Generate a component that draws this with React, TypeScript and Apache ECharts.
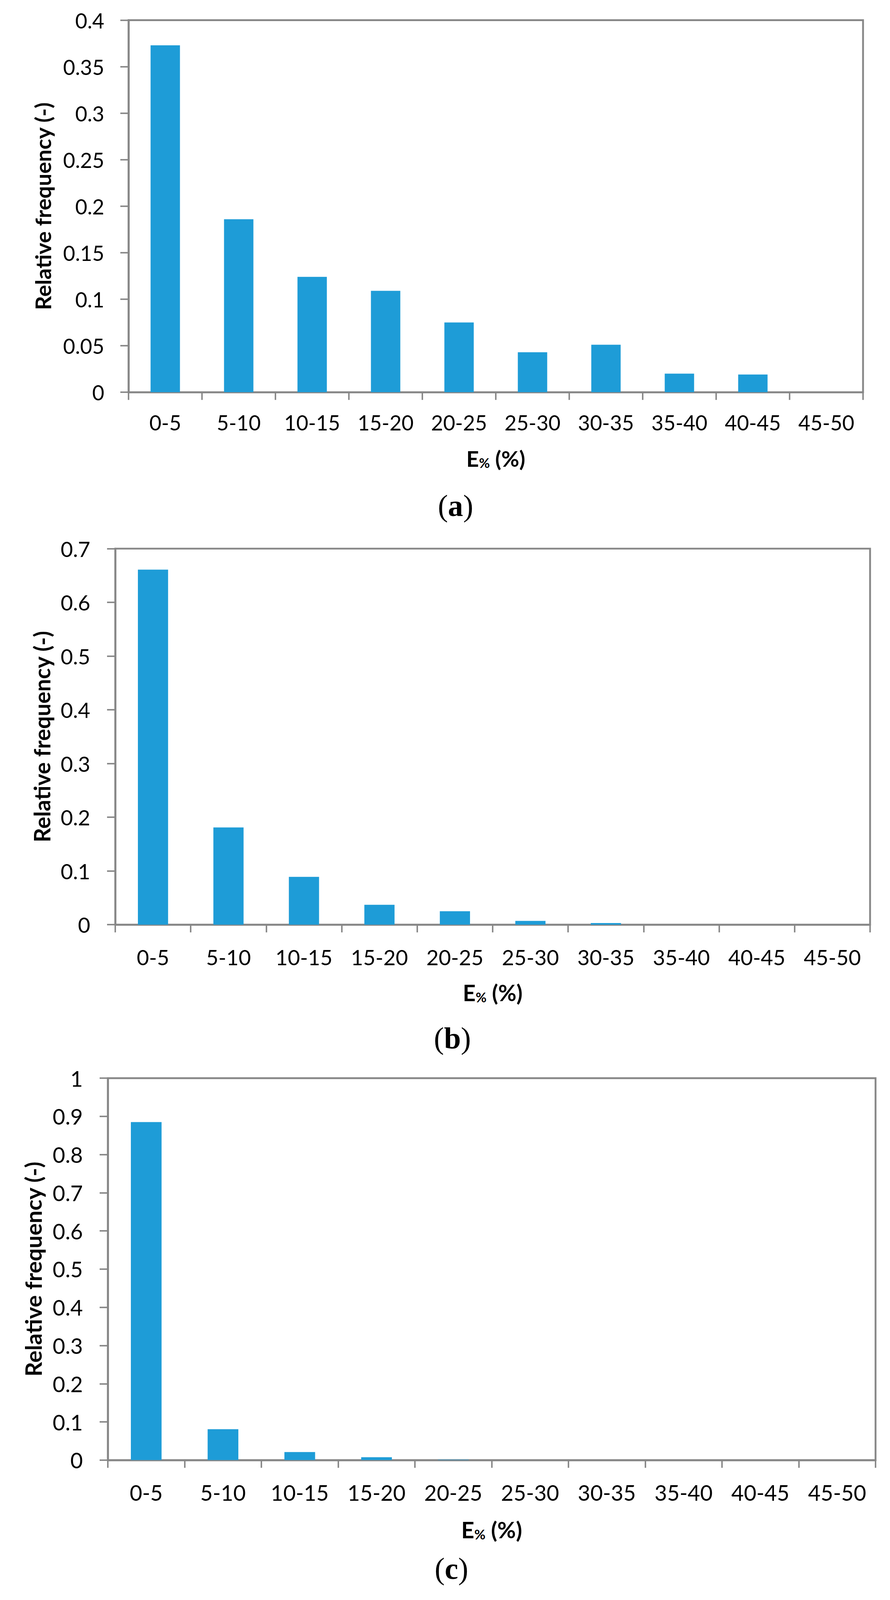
import React, { useEffect, useRef, useState } from "react";
import * as echarts from "echarts";

const categories = ["0-5", "5-10", "10-15", "15-20", "20-25", "25-30", "30-35", "35-40", "40-45", "45-50"];
const freqA = [0.373, 0.186, 0.124, 0.109, 0.075, 0.043, 0.051, 0.020, 0.019, 0];
const freqB = [0.661, 0.181, 0.089, 0.037, 0.025, 0.007, 0.003, 0, 0, 0];
const freqC = [0.885, 0.081, 0.021, 0.0075, 0.001, 0, 0, 0, 0, 0];
const yMax = [0.4, 0.7, 1];
const yStep = [0.05, 0.1, 0.1];
const panelLabels = ["a", "b", "c"];

const W = 2278;
const H = 4357;
const GRAY = "#878787";
const BAR = "#1e9cd7";
const SANS = "Lato, 'Open Sans', sans-serif";
const SERIF = "'Liberation Serif', 'DejaVu Serif', serif";

// layout in reference pixels (scaled to the actual viewport below)
const grids = [
  { left: 329, top: 55, right: 2209, bottom: 1068, xMargin: 54, yMargin: 62, xNameGap: 150, yNameGap: 192, fs: 55, tfs: 58, labelY: 1377 },
  { left: 295, top: 1494, right: 2227, bottom: 2518, xMargin: 59, yMargin: 64, xNameGap: 154, yNameGap: 160, fs: 56, tfs: 59, labelY: 2827 },
  { left: 276, top: 2936, right: 2241, bottom: 3976, xMargin: 59, yMargin: 64, xNameGap: 158, yNameGap: 163, fs: 57, tfs: 60, labelY: 4272 },
];

export default function App() {
  const ref = useRef<HTMLDivElement>(null);
  const [size] = useState(() => ({
    w: (typeof window !== "undefined" && window.innerWidth) || W,
    h: (typeof window !== "undefined" && window.innerHeight) || H,
  }));
  useEffect(() => {
    document.body.style.margin = "0";
    if (!ref.current) return;
    const sx = size.w / W;
    const sy = size.h / H;
    const sf = Math.min(sx, sy);
    const st = (sx + sy) / 2;
    const chart = echarts.init(ref.current, null, { renderer: "svg" });
    const data = [freqA, freqB, freqC];
    const option: any = {
      animation: false,
      backgroundColor: "#ffffff",
      grid: grids.map((g) => ({
        left: g.left * sx,
        top: g.top * sy,
        width: (g.right - g.left) * sx,
        height: (g.bottom - g.top) * sy,
        show: true,
        borderColor: GRAY,
        borderWidth: 5 * sf,
        backgroundColor: "transparent",
        containLabel: false,
      })),
      xAxis: grids.map((g, i) => ({
        type: "category",
        gridIndex: i,
        data: categories,
        boundaryGap: true,
        axisLine: { show: true, lineStyle: { color: GRAY, width: 5 * sf } },
        axisTick: { show: true, length: 21 * sy, lineStyle: { color: GRAY, width: 4 * sf } },
        axisLabel: { color: "#000", fontFamily: SANS, fontSize: g.fs * st, margin: g.xMargin * sy, interval: 0 },
        splitLine: { show: false },
        name: "{e|E}{s|%}{e| (%)}",
        nameLocation: "middle",
        nameGap: g.xNameGap * sy,
        nameTextStyle: {
          rich: {
            e: { fontFamily: SANS, fontWeight: "bold", fontSize: g.tfs * st, color: "#000", lineHeight: g.tfs * st, verticalAlign: "middle" },
            s: { fontFamily: SANS, fontWeight: "bold", fontSize: Math.round(g.tfs * 0.6 * st), color: "#000", lineHeight: 4 * st, verticalAlign: "bottom" },
          },
        },
      })),
      yAxis: grids.map((g, i) => ({
        type: "value",
        gridIndex: i,
        min: 0,
        max: yMax[i],
        interval: yStep[i],
        axisLine: { show: true, lineStyle: { color: GRAY, width: 5 * sf } },
        axisTick: { show: true, length: 21 * sx, lineStyle: { color: GRAY, width: 4 * sf } },
        axisLabel: { color: "#000", fontFamily: SANS, fontSize: g.fs * st, margin: g.yMargin * sx },
        splitLine: { show: false },
        name: "Relative frequency (-)",
        nameLocation: "middle",
        nameGap: g.yNameGap * sx,
        nameTextStyle: { fontFamily: SANS, fontWeight: "bold", fontSize: g.tfs * st, color: "#000" },
      })),
      series: data.map((d, i) => ({
        type: "bar",
        xAxisIndex: i,
        yAxisIndex: i,
        data: d,
        barCategoryGap: "60%",
        itemStyle: { color: BAR },
        z: 1,
      })),
      graphic: grids.map((g, i) => ({
        type: "text",
        x: ((g.left + g.right) / 2 - 103) * sx,
        y: g.labelY * sy,
        style: {
          text: "{p|(}{b|" + panelLabels[i] + "}{p|)}",
          textAlign: "center",
          textVerticalAlign: "middle",
          align: "center",
          verticalAlign: "middle",
          fill: "#000",
          rich: {
            p: { fontFamily: SERIF, fontSize: 80 * st, fill: "#000", color: "#000" },
            b: { fontFamily: SERIF, fontSize: 80 * st, fontWeight: "bold", fill: "#000", color: "#000" },
          },
        },
      })),
    };
    chart.setOption(option);
    return () => chart.dispose();
  }, [size]);
  return <div ref={ref} style={{ width: size.w, height: size.h }} />;
}
